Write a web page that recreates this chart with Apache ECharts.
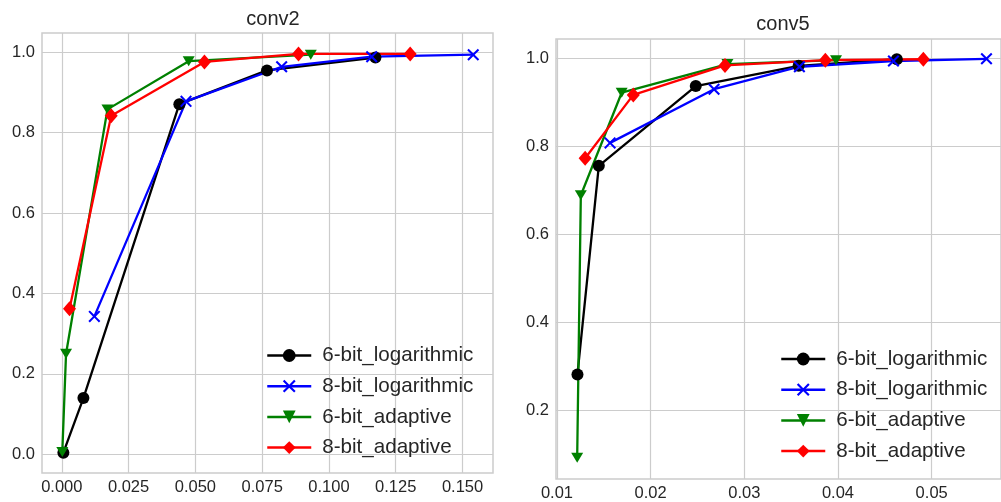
<!DOCTYPE html>
<html>
<head>
<meta charset="utf-8">
<script src="https://cdn.jsdelivr.net/npm/echarts@6/dist/echarts.min.js"></script>
<style>html,body{margin:0;padding:0;background:#fff}#c{width:1001px;height:502px}</style>
</head>
<body>
<div id="c"></div>
<script>
// ---- data ----
const seriesNames = ['6-bit_logarithmic', '8-bit_logarithmic', '6-bit_adaptive', '8-bit_adaptive'];

const conv2_log6 = [[0.0006, 0.004], [0.0081, 0.140], [0.0440, 0.871], [0.0768, 0.955], [0.1174, 0.987]];
const conv2_log8 = [[0.0122, 0.343], [0.0465, 0.878], [0.0823, 0.964], [0.1160, 0.989], [0.1540, 0.994]];
const conv2_ada6 = [[0.0002, 0.006], [0.0016, 0.250], [0.0171, 0.858], [0.0475, 0.978], [0.0932, 0.994]];
const conv2_ada8 = [[0.0029, 0.362], [0.0185, 0.842], [0.0534, 0.976], [0.0886, 0.996], [0.1304, 0.996]];

const conv5_log6 = [[0.01219, 0.282], [0.01447, 0.756], [0.02482, 0.937], [0.0358, 0.983], [0.04628, 0.998]];
const conv5_log8 = [[0.01567, 0.808], [0.02677, 0.930], [0.03588, 0.981], [0.04592, 0.994], [0.05585, 0.999]];
const conv5_ada6 = [[0.01216, 0.093], [0.01255, 0.689], [0.01691, 0.922], [0.0282, 0.987], [0.03979, 0.996]];
const conv5_ada8 = [[0.01301, 0.773], [0.01815, 0.917], [0.02794, 0.984], [0.03865, 0.996], [0.04911, 0.998]];

const conv2_xTicks = [0, 0.025, 0.05, 0.075, 0.1, 0.125, 0.15];
const conv2_yTicks = [0, 0.2, 0.4, 0.6, 0.8, 1.0];
const conv5_xTicks = [0.01, 0.02, 0.03, 0.04, 0.05];
const conv5_yTicks = [0.2, 0.4, 0.6, 0.8, 1.0];

const titles = ['conv2', 'conv5'];

// ---- styling ----
const FONT = '"Liberation Sans", Arial, sans-serif';
const TXT = '#262626';
const GRIDC = '#cccccc';
const colors = ['#000000', '#0000ff', '#008000', '#ff0000'];
const xPath = 'path://M0,1.2L1.2,0L5,3.8L8.8,0L10,1.2L6.2,5L10,8.8L8.8,10L5,6.2L1.2,10L0,8.8L3.8,5Z';
const symbols = ['circle', xPath, 'triangle', 'diamond'];
const symSizes = [12, 12, [12, 10], [13, 15]];
const symRot = [0, 0, 180, 0];

function xAxis(gi, min, max, ticks, dec) {
  return {
    type: 'value', gridIndex: gi, min: min, max: max,
    axisLine: {show: false},
    axisTick: {show: true, length: 0, customValues: ticks},
    axisLabel: {customValues: ticks, formatter: v => v.toFixed(dec), color: TXT,
      fontSize: 16.5, fontFamily: FONT, margin: 6},
    splitLine: {show: true, lineStyle: {color: GRIDC, width: 1.2}}
  };
}
function yAxis(gi, min, max, ticks) {
  return {
    type: 'value', gridIndex: gi, min: min, max: max,
    axisLine: {show: false},
    axisTick: {show: true, length: 0, customValues: ticks},
    axisLabel: {customValues: ticks, formatter: v => v.toFixed(1), color: TXT,
      fontSize: 16.5, fontFamily: FONT, margin: 7},
    splitLine: {show: true, lineStyle: {color: GRIDC, width: 1.2}}
  };
}

const data = [[conv2_log6, conv2_log8, conv2_ada6, conv2_ada8],
              [conv5_log6, conv5_log8, conv5_ada6, conv5_ada8]];
const series = [];
for (let g = 0; g < 2; g++) {
  for (let i = 0; i < 4; i++) {
    series.push({
      type: 'line', name: seriesNames[i], xAxisIndex: g, yAxisIndex: g,
      data: data[g][i], symbol: symbols[i], symbolSize: symSizes[i], symbolRotate: symRot[i],
      showAllSymbol: true,
      lineStyle: {color: colors[i], width: 2.3},
      itemStyle: {color: colors[i], borderWidth: 0, opacity: 1},
      emphasis: {disabled: true}, animation: false, clip: false
    });
  }
}

function legend(left, top) {
  return {
    orient: 'vertical', left: left, top: top, itemWidth: 44, itemHeight: 16, itemGap: 9.7,
    data: seriesNames,
    lineStyle: {width: 2.5},
    textStyle: {fontSize: 20.6, fontFamily: FONT, color: TXT, padding: [0, 0, 0, 6]},
    selectedMode: false
  };
}

const chart = echarts.init(document.getElementById('c'), null, {renderer: 'canvas'});
chart.setOption({
  backgroundColor: '#ffffff',
  animation: false,
  title: [
    {text: titles[0], left: 268, top: 4, textAlign: 'center',
     textStyle: {fontSize: 20, fontWeight: 'normal', fontFamily: FONT, color: TXT}},
    {text: titles[1], left: 778, top: 9, textAlign: 'center',
     textStyle: {fontSize: 20, fontWeight: 'normal', fontFamily: FONT, color: TXT}}
  ],
  legend: [legend(261, 340), legend(775, 343.5)],
  grid: [
    {left: 42, top: 33, width: 451, height: 440, show: true, borderColor: GRIDC, borderWidth: 1.5, backgroundColor: '#fff'},
    {left: 556, top: 39, width: 445, height: 440, show: true, borderColor: GRIDC, borderWidth: 1.5, backgroundColor: '#fff'}
  ],
  xAxis: [xAxis(0, -0.0074, 0.1614, conv2_xTicks, 3), xAxis(1, 0.0099, 0.0574, conv5_xTicks, 2)],
  yAxis: [yAxis(0, -0.0465, 1.048, conv2_yTicks), yAxis(1, 0.0445, 1.044, conv5_yTicks)],
  series: series
});
</script>
</body>
</html>
